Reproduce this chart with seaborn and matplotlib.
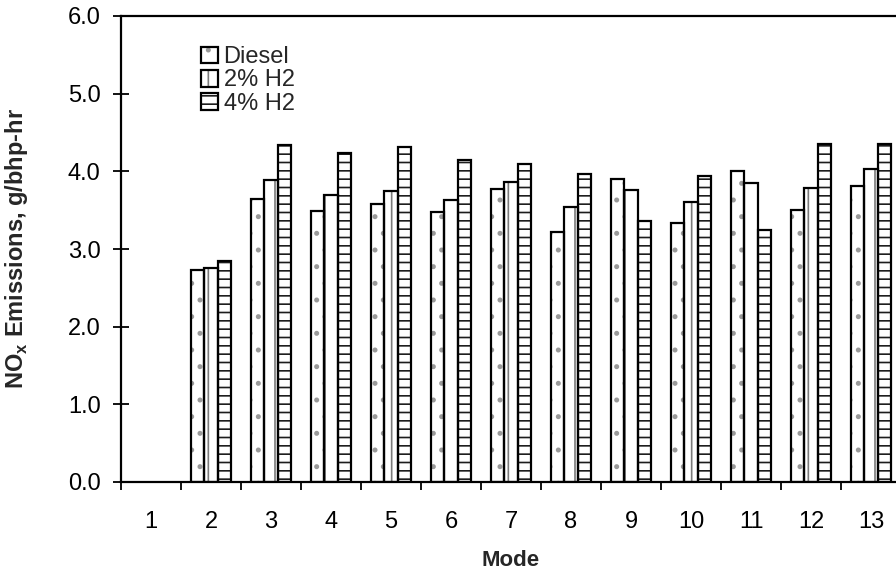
import numpy as np
import pandas as pd
import matplotlib
matplotlib.use("Agg")
import matplotlib.pyplot as plt
import seaborn as sns
from matplotlib.patches import Rectangle, Patch
from matplotlib.legend_handler import HandlerTuple
from matplotlib.ticker import FixedLocator, FormatStrFormatter

# NOx emissions per test mode (g/bhp-hr); mode 1 has no measurement
modes = [str(i) for i in range(1, 14)]
diesel = [np.nan, 2.73, 3.64, 3.49, 3.58, 3.47, 3.77, 3.22, 3.90, 3.33, 4.01, 3.50, 3.81]
h2_2pct = [np.nan, 2.75, 3.89, 3.70, 3.75, 3.63, 3.86, 3.54, 3.76, 3.60, 3.85, 3.79, 4.03]
h2_4pct = [np.nan, 2.84, 4.34, 4.24, 4.31, 4.14, 4.10, 3.96, 3.36, 3.94, 3.25, 4.35, 4.35]
series = ["Diesel", "2% H2", "4% H2"]
y_ticks = [0, 1, 2, 3, 4, 5, 6]

# fill pattern and pattern colour for each series
hatches = [".", "|", "--"]
hatch_colors = ["#9a9a9a", "#7a7a7a", "#1e1e1e"]

sns.set_theme(style="white")
plt.rcParams["font.family"] = ["Liberation Sans", "DejaVu Sans"]
plt.rcParams["mathtext.fontset"] = "custom"
plt.rcParams["mathtext.rm"] = "Liberation Sans"
plt.rcParams["mathtext.bf"] = "Liberation Sans:bold"
plt.rcParams["hatch.linewidth"] = 1.2

df = pd.DataFrame({
    "Mode": modes * 3,
    "NOx": diesel + h2_2pct + h2_4pct,
    "Fuel": np.repeat(series, len(modes)),
})

fig = plt.figure(figsize=(8.96, 5.77), dpi=100)
ax = fig.add_axes([121 / 896, 95 / 577, 780 / 896, 466 / 577])

sns.barplot(data=df, x="Mode", y="NOx", hue="Fuel", order=modes,
            hue_order=series, palette=["white"] * 3, saturation=1,
            width=0.68, gap=0, errorbar=None, legend=False, ax=ax)

# hatched fill underneath, black outline on top
for cont, hatch, hc in zip(ax.containers, hatches, hatch_colors):
    for bar in cont:
        bar.set_facecolor("white")
        bar.set_edgecolor(hc)
        bar.set_linewidth(0)
        bar.set_hatch(hatch)
        h = bar.get_height()
        if np.isfinite(h):
            ax.add_patch(Rectangle(bar.get_xy(), bar.get_width(), h,
                                   fill=False, edgecolor="black",
                                   linewidth=1.6, zorder=bar.get_zorder() + 0.1))

ax.set_xlim(-0.5, len(modes) - 0.5)
ax.set_ylim(0, 6)
ax.set_yticks(y_ticks)
ax.yaxis.set_major_formatter(FormatStrFormatter("%.1f"))
ax.tick_params(axis="y", direction="inout", length=11.5, width=1.3,
               labelsize=17, pad=9, left=True, colors="black")
ax.xaxis.set_minor_locator(FixedLocator(np.arange(-0.5, len(modes), 1.0)))
ax.tick_params(axis="x", which="major", length=0, labelsize=17, pad=21,
               colors="black")
ax.tick_params(axis="x", which="minor", direction="out", length=6,
               width=1.3, bottom=True, color="black")

for sp in ax.spines.values():
    sp.set_visible(True)
    sp.set_color("black")
    sp.set_linewidth(1.6)

ax.set_xlabel("Mode", fontsize=16, fontweight="bold")
ax.xaxis.label.set_va("center")
ax.xaxis.set_label_coords(0.5, (17 - 95) / 466)
ax.set_ylabel(r"NO$_\mathbf{x}$ Emissions, g/bhp-hr", fontsize=17,
              fontweight="bold")
ax.yaxis.label.set_va("center")
ax.yaxis.set_label_coords((17 - 121) / 780, 0.5)

handles = []
for hatch, hc in zip(hatches, hatch_colors):
    fill = Patch(facecolor="white", edgecolor=hc, linewidth=0, hatch=hatch)
    outline = Patch(facecolor="none", edgecolor="black", linewidth=1.6)
    handles.append((fill, outline))
ax.legend(handles, series,
          handler_map={tuple: HandlerTuple(ndivide=1, pad=0)},
          loc="upper left", bbox_to_anchor=((200.7 - 121) / 780, 0.935),
          frameon=False, fontsize=17, borderpad=0, borderaxespad=0,
          handlelength=0.72, handleheight=0.72, handletextpad=0.25,
          labelspacing=0.05)

fig.savefig("out.png", dpi=100)
